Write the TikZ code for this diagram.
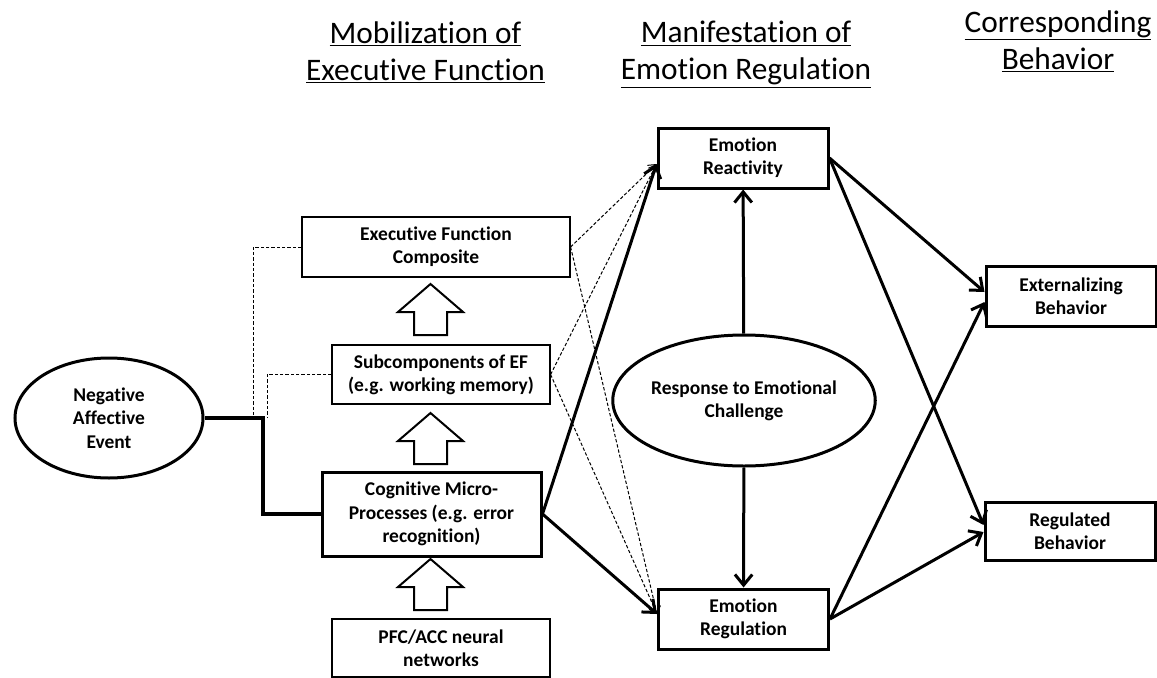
\documentclass[tikz,border=0pt]{standalone}
\usepackage{fontspec}
\setmainfont[Ligatures=NoCommon]{Carlito}
\usetikzlibrary{shapes.geometric,arrows.meta,calc}

\tikzset{
  boxfont/.style={font=\bfseries\fontsize{14.6}{17.5}\selectfont},
  thickbox/.style={draw,line width=2.25pt,align=center,inner sep=0pt,boxfont},
  thinbox/.style={draw,line width=0.9pt,align=center,inner sep=0pt,boxfont},
  oval/.style={ellipse,draw,line width=2.25pt,align=center,inner sep=0pt,boxfont},
  solidarr/.style={line width=2.25pt,-{Straight Barb[length=8pt,width=13pt]}},
  dashline/.style={line width=0.75pt,dash pattern=on 2.5pt off 1.5pt},
  dasharr/.style={dashline,-{Straight Barb[length=5pt,width=8pt]}},
  header/.style={align=center,anchor=north,inner sep=0pt,font=\fontsize{23.5}{27.75}\selectfont}
}

\begin{document}
\begin{tikzpicture}[x=0.75pt,y=-0.75pt]
\useasboundingbox (0,0) rectangle (1157,678);
% column titles
\node[header] (h1) at (425.5,21) {\underline{Mobilization of}\\\underline{Executive Function}};
\node[header] (h2) at (746,21) {\underline{Manifestation of}\\\underline{Emotion Regulation}};
\node[header] (h3) at (1058,10) {\underline{Corresponding}\\\underline{Behavior}};
% left column
\node[oval, minimum width=141pt, minimum height=90pt] (nae) at (109,418) {Negative\\Affective\\Event};
\node[thinbox, minimum width=201pt, minimum height=45pt] (efc) at (436,247) {Executive Function\\Composite};
\node[thinbox, minimum width=163.5pt, minimum height=44.25pt] (sub) at (441,374.5) {Subcomponents of EF\\(e.g. working memory)};
\node[thickbox, minimum width=164.25pt, minimum height=63pt] (cmp) at (431.5,514) {Cognitive Micro-\\Processes (e.g. error\\recognition)};
\node[thinbox, minimum width=163.5pt, minimum height=43.5pt] (pfc) at (441,648) {PFC/ACC neural\\networks};
% block arrows
\foreach \t in {284,413,559}
  \draw[line width=1.5pt, line join=miter] (430.5,\t) -- (463,\t+28) -- (447,\t+28) -- (447,\t+51)
    -- (414,\t+51) -- (414,\t+28) -- (398,\t+28) -- cycle;
% middle column
\node[thickbox, minimum width=127.5pt, minimum height=45pt] (er) at (743,158) {Emotion\\Reactivity};
\node[oval, minimum width=159pt, minimum height=98.25pt] (rte) at (744,400.5) {Response to Emotional\\Challenge};
\node[thickbox, minimum width=127.5pt, minimum height=45pt] (eg) at (743.5,619) {Emotion\\Regulation};
% right column
\node[thickbox, minimum width=127.5pt, minimum height=45pt] (ext) at (1071,296) {Externalizing\\Behavior};
\node[thickbox, minimum width=127.5pt, minimum height=43.5pt] (reg) at (1070,531) {Regulated\\Behavior};
% event line
\coordinate (jn) at (263,418);
\coordinate (efcend) at (253,418);
\coordinate (subend) at (267,418);
\draw[line width=3pt] (nae.east) -- (jn) |- (cmp.west);
\draw[dashline] (efc.west) -| (efcend);
\draw[dashline] (sub.west) -| (subend);
% into emotion regulation
\coordinate (erin) at ($(er.west)+(0,6)$);
\coordinate (egin) at ($(eg.west)+(0,-5)$);
\draw[dasharr] (efc.east) -- (erin);
\draw[dasharr] (efc.east) -- (egin);
\draw[dasharr] (sub.east) -- (erin);
\draw[dasharr] (sub.east) -- (egin);
\draw[solidarr] (cmp.east) -- (erin);
\draw[solidarr] (cmp.east) -- (egin);
\draw[solidarr] (rte) -- (er);
\draw[solidarr] (rte) -- (eg);
% behavior
\draw[solidarr] (er.east) -- ($(ext.west)+(0,-4)$);
\draw[solidarr] (er.east) -- ($(reg.west)+(0,-6)$);
\draw[solidarr] (eg.east) -- ($(ext.west)+(0,6)$);
\draw[solidarr] (eg.east) -- ($(reg.west)+(0,1)$);
\end{tikzpicture}
\end{document}
